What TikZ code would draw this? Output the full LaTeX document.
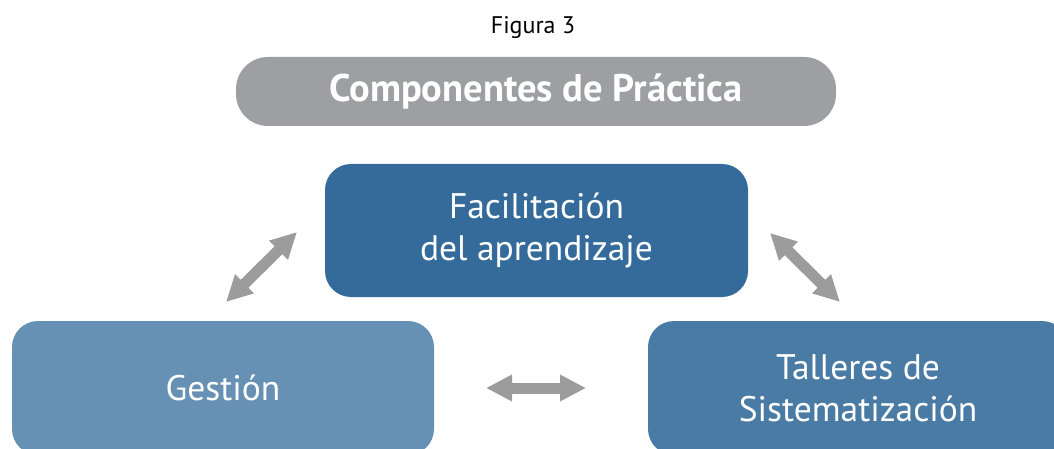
\documentclass[tikz,border=0pt]{standalone}
\usepackage{fontspec}
\setmainfont{PT Sans}
\usetikzlibrary{arrows.meta}
\definecolor{titulogris}{HTML}{9D9FA2}
\definecolor{flechagris}{HTML}{9C9C9D}
\definecolor{azulfac}{HTML}{346B9A}
\definecolor{azulges}{HTML}{6690B4}
\definecolor{azultal}{HTML}{4A7BA4}
\begin{document}
\begin{tikzpicture}[x=1pt,y=-1pt,
	caja/.style={rounded corners=26pt, text=white, align=center, inner sep=0pt,
		font=\fontsize{35.5}{42}\selectfont},
	flecha/.style={draw=flechagris, line width=11pt,
		{Triangle[length=26pt,width=25pt]}-{Triangle[length=26pt,width=25pt]}}]
	\useasboundingbox (0,0) rectangle (1054,449);
	\clip (0,0) rectangle (1054,449);

	\node (figura) at (533,28) {\fontsize{24}{28}\selectfont Figura 3};
	\node [caja, fill=titulogris, minimum width=600pt, minimum height=69pt, rounded corners=32pt,
		font=\fontsize{38.5}{42}\selectfont\bfseries] (titulo) at (536,91.5) {Componentes de Práctica};

	\node [caja, fill=azulfac, minimum width=423pt, minimum height=133pt] (facil) at (536.5,230.5) {Facilitación\\del aprendizaje};
	\node [caja, fill=azulges, minimum width=422pt, minimum height=134pt] (gestion) at (223,388) {Gestión};
	\node [caja, fill=azultal, minimum width=420pt, minimum height=134pt] (talleres) at (858,388) {Talleres de\\Sistematización};

	% extremos de las flechas
	\coordinate (ges-a) at (226,302);
	\coordinate (fac-a) at (297,232);
	\coordinate (fac-b) at (770,233);
	\coordinate (tal-b) at (840,302);
	\coordinate (ges-c) at (486,388);
	\coordinate (tal-c) at (586,388);

	\draw [flecha] (ges-a) -- (fac-a);
	\draw [flecha] (fac-b) -- (tal-b);
	\draw [flecha] (ges-c) -- (tal-c);
\end{tikzpicture}
\end{document}
